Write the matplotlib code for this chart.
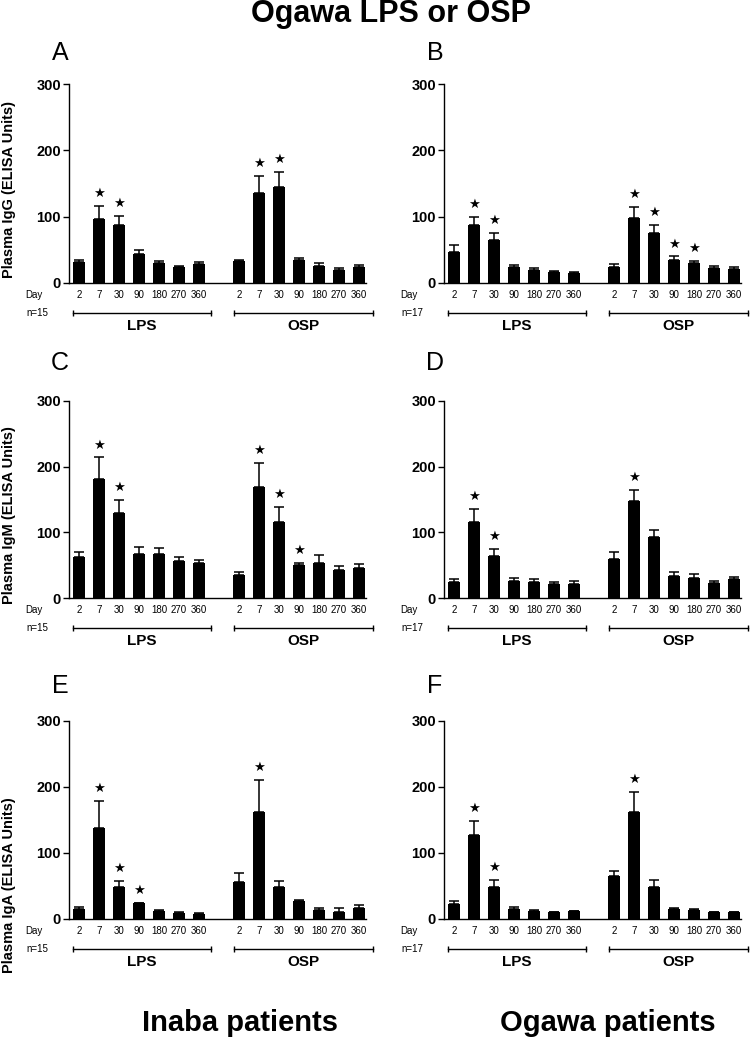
import matplotlib
matplotlib.use('Agg')
import matplotlib.pyplot as plt
from matplotlib.transforms import blended_transform_factory, ScaledTranslation
import numpy as np

plt.rcParams['font.family'] = ['Liberation Sans', 'DejaVu Sans']

# ---------------- data ----------------
days = ['2', '7', '30', '90', '180', '270', '360']
groups = ['LPS', 'OSP']

# Panel A: Inaba patients, IgG
A_lps_mean = [31, 96, 87, 43, 30, 24, 29]
A_lps_sem = [3, 20, 14, 7, 3, 2, 2]
A_osp_mean = [33, 136, 144, 35, 25, 20, 24]
A_osp_sem = [2, 25, 23, 2, 5, 2, 3]
A_lps_star = ['7', '30']
A_osp_star = ['7', '30']

# Panel B: Ogawa patients, IgG
B_lps_mean = [47, 87, 65, 24, 19, 16, 15]
B_lps_sem = [10, 13, 11, 3, 3, 2, 1]
B_osp_mean = [24, 98, 75, 35, 30, 22, 21]
B_osp_sem = [5, 17, 12, 5, 3, 3, 3]
B_lps_star = ['7', '30']
B_osp_star = ['7', '30', '90', '180']

# Panel C: Inaba patients, IgM
C_lps_mean = [62, 181, 130, 67, 67, 56, 53]
C_lps_sem = [8, 33, 20, 11, 9, 7, 5]
C_osp_mean = [35, 169, 116, 50, 54, 43, 46]
C_osp_sem = [5, 37, 23, 4, 11, 6, 6]
C_lps_star = ['7', '30']
C_osp_star = ['7', '30', '90']

# Panel D: Ogawa patients, IgM
D_lps_mean = [24, 115, 64, 26, 24, 21, 22]
D_lps_sem = [5, 20, 11, 5, 5, 4, 4]
D_osp_mean = [60, 148, 93, 33, 31, 23, 29]
D_osp_sem = [10, 17, 10, 7, 5, 3, 3]
D_lps_star = ['7', '30']
D_osp_star = ['7']

# Panel E: Inaba patients, IgA
E_lps_mean = [15, 138, 49, 24, 12, 9, 8]
E_lps_sem = [3, 41, 8, 0.5, 1, 1, 0.5]
E_osp_mean = [56, 162, 48, 28, 13, 11, 17]
E_osp_sem = [14, 49, 10, 0.5, 4, 6, 4]
E_lps_star = ['7', '30', '90']
E_osp_star = ['7']

# Panel F: Ogawa patients, IgA
F_lps_mean = [23, 127, 48, 15, 12, 10, 12]
F_lps_sem = [4, 22, 11, 3, 1, 1, 0.5]
F_osp_mean = [65, 162, 48, 15, 14, 10, 10]
F_osp_sem = [8, 30, 11, 1, 0.5, 1, 1]
F_lps_star = ['7', '30']
F_osp_star = ['7']

n_inaba = 'n=15'
n_ogawa = 'n=17'
ylabels = ['Plasma IgG (ELISA Units)', 'Plasma IgM (ELISA Units)', 'Plasma IgA (ELISA Units)']
yticks = [0, 100, 200, 300]
title = 'Ogawa LPS or OSP'
col_titles = ['Inaba patients', 'Ogawa patients']
letters = ['A', 'B', 'C', 'D', 'E', 'F']

# ---------------- layout ----------------
W, H = 750, 1041
fig = plt.figure(figsize=(W / 100, H / 100), dpi=100)

def fx(px):
    return px / W

def fy(py):
    return 1 - py / H

col_left = [69.4, 444.4]
col_w = 296.6
row_tb = [(84, 283), (401, 598), (721, 919)]

panels = [
    (A_lps_mean, A_lps_sem, A_osp_mean, A_osp_sem, A_lps_star, A_osp_star, n_inaba),
    (B_lps_mean, B_lps_sem, B_osp_mean, B_osp_sem, B_lps_star, B_osp_star, n_ogawa),
    (C_lps_mean, C_lps_sem, C_osp_mean, C_osp_sem, C_lps_star, C_osp_star, n_inaba),
    (D_lps_mean, D_lps_sem, D_osp_mean, D_osp_sem, D_lps_star, D_osp_star, n_ogawa),
    (E_lps_mean, E_lps_sem, E_osp_mean, E_osp_sem, E_lps_star, E_osp_star, n_inaba),
    (F_lps_mean, F_lps_sem, F_osp_mean, F_osp_sem, F_lps_star, F_osp_star, n_ogawa),
]

x_lps = np.arange(len(days))
x_osp = np.arange(len(days)) + len(days) + 1
brackets = [(-0.3, 6.62), (7.76, 14.72)]

for k, (lm, ls, om, os_, lstar, ostar, ntxt) in enumerate(panels):
    r, c = divmod(k, 2)
    top, bot = row_tb[r]
    ax = fig.add_axes([fx(col_left[c]), fy(bot), col_w / W, (bot - top) / H])
    for xs, m, e, stars in [(x_lps, lm, ls, lstar), (x_osp, om, os_, ostar)]:
        ax.bar(xs, m, width=0.63, color='black', zorder=2)
        ax.errorbar(xs, m, yerr=[np.zeros(len(m)), e], fmt='none', ecolor='black',
                    elinewidth=1.1, capsize=3.5, capthick=1.1, zorder=3)
        for d in stars:
            i = days.index(d)
            ax.annotate('★', xy=(xs[i], m[i] + e[i]), xytext=(0, 9),
                        textcoords='offset points', ha='center', va='center',
                        fontsize=9.5, family='DejaVu Sans', annotation_clip=False)
    ax.set_xlim(-0.48, 14.35)
    ax.set_ylim(0, 300)
    ax.set_yticks(yticks)
    ax.set_yticklabels([str(t) for t in yticks], fontsize=10.5, fontweight='bold')
    ax.set_xticks(list(x_lps) + list(x_osp))
    ax.set_xticklabels(days + days, fontsize=7)
    ax.tick_params(axis='x', length=0, pad=5)
    ax.tick_params(axis='y', length=4, width=1, direction='out', pad=2)
    for s in ['top', 'right']:
        ax.spines[s].set_visible(False)
    for s in ['left', 'bottom']:
        ax.spines[s].set_linewidth(1.0)

    ax.annotate('Day', xy=(0, 0), xycoords='axes fraction', xytext=(-44 * 0.72, -12 * 0.72),
                textcoords='offset points', ha='left', va='center', fontsize=7)
    ax.annotate(ntxt, xy=(0, 0), xycoords='axes fraction', xytext=(-43 * 0.72, -30 * 0.72),
                textcoords='offset points', ha='left', va='center', fontsize=7)

    trans_b = blended_transform_factory(ax.transData, ax.transAxes) + \
        ScaledTranslation(0, -30 / 100, fig.dpi_scale_trans)
    trans_g = blended_transform_factory(ax.transData, ax.transAxes) + \
        ScaledTranslation(0, -43 / 100, fig.dpi_scale_trans)
    for (x0, x1), g in zip(brackets, groups):
        ax.plot([x0, x1], [0, 0], color='black', lw=1, marker='|', markersize=5,
                transform=trans_b, clip_on=False)
        ax.text((x0 + x1) / 2, 0, g, transform=trans_g, ha='center', va='center',
                fontsize=11, fontweight='bold')

# panel letters
letter_pos = [(60, 53), (435, 53), (60, 363), (435, 363), (60, 686), (435, 686)]
for L, (px, py) in zip(letters, letter_pos):
    fig.text(fx(px), fy(py), L, ha='center', va='center', fontsize=18)

# y labels
for lab, py in zip(ylabels, [190, 515, 885]):
    fig.text(fx(9), fy(py), lab, rotation=90, ha='center', va='center',
             fontsize=10.5, fontweight='bold')

fig.text(fx(391), fy(14), title, ha='center', va='center', fontsize=22, fontweight='bold')
fig.text(fx(240), fy(1023), col_titles[0], ha='center', va='center', fontsize=21, fontweight='bold')
fig.text(fx(608), fy(1023), col_titles[1], ha='center', va='center', fontsize=21, fontweight='bold')

fig.savefig('out.png', dpi=100)
